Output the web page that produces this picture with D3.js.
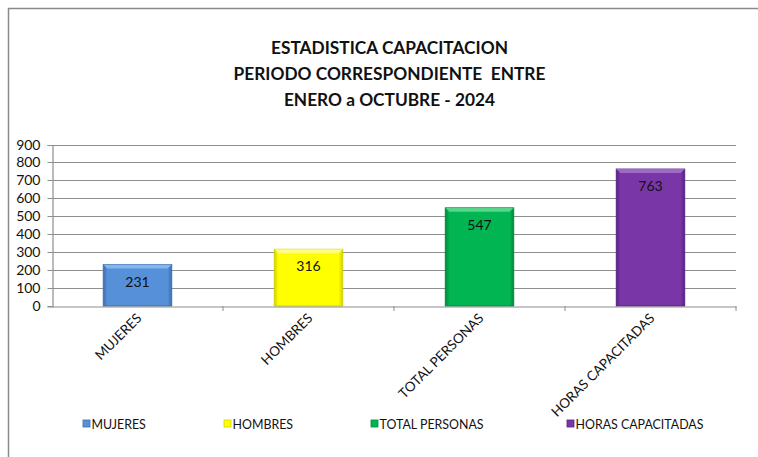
<!DOCTYPE html>
<html><head><meta charset="utf-8">
<script src="https://cdn.jsdelivr.net/npm/d3@7"></script>
<style>body{margin:0;background:#fff}svg{display:block}</style>
</head><body><svg id="c" width="758" height="457"></svg>
<script>
const titleLines = ["ESTADISTICA CAPACITACION", "PERIODO CORRESPONDIENTE  ENTRE", "ENERO a OCTUBRE - 2024"];
const categories = ["MUJERES", "HOMBRES", "TOTAL PERSONAS", "HORAS CAPACITADAS"];
const values = [231, 316, 547, 763];
const colors = ["#5590d9", "#ffff00", "#00b552", "#7936a6"];
const darkColors = ["#3c6eae", "#d2d200", "#008a3c", "#5a2282"];
const lightColors = ["#8db8ec", "#ffff90", "#5fd98f", "#a46fcb"];
const yTicks = [0, 100, 200, 300, 400, 500, 600, 700, 800, 900];

const F = "Lato, 'Liberation Sans', sans-serif";
const svg = d3.select("#c");
const defs = svg.append("defs");

// chart border
svg.append("rect").attr("x", 8.5).attr("y", 8.5).attr("width", 770).attr("height", 470)
  .attr("fill", "#fff").attr("stroke", "#8a8a8a").attr("stroke-width", 1.5);

// title
svg.append("g").selectAll("text").data(titleLines).join("text")
  .attr("x", 389.5).attr("y", (d, i) => 54 + i * 26)
  .attr("text-anchor", "middle").attr("font-family", F).attr("font-weight", "bold")
  .attr("font-size", 17.3).attr("fill", "#111").attr("xml:space", "preserve").text(d => d);

const x = d3.scaleBand().domain(categories).range([52, 736]).padding(0);
const y = d3.scaleLinear().domain([0, 900]).range([306, 144.5]);

// gridlines
svg.append("g").selectAll("line").data(yTicks.filter(d => d > 0)).join("line")
  .attr("x1", 52).attr("x2", 736).attr("y1", d => Math.round(y(d)) + 0.5).attr("y2", d => Math.round(y(d)) + 0.5)
  .attr("stroke", "#8e8e8e").attr("stroke-width", 1.2);

// y axis
const yAxis = svg.append("g").attr("transform", "translate(52.5,0.5)")
  .call(d3.axisLeft(y).tickValues(yTicks).tickSize(5).tickPadding(7).tickFormat(d3.format("d")));
yAxis.select(".domain").attr("stroke", "#8e8e8e").attr("stroke-width", 1.2);
yAxis.selectAll(".tick line").attr("stroke", "#8e8e8e");
yAxis.selectAll(".tick").attr("transform", d => `translate(0,${Math.round(y(d))})`);
yAxis.selectAll("text").attr("font-family", F).attr("font-size", 14).attr("fill", "#111");

// bars
const bw = x.bandwidth() * 0.4;
categories.forEach((c, i) => {
  const g = defs.append("linearGradient").attr("id", "g" + i).attr("x1", 0).attr("x2", 1).attr("y1", 0).attr("y2", 0);
  g.append("stop").attr("offset", "0%").attr("stop-color", darkColors[i]);
  g.append("stop").attr("offset", "6%").attr("stop-color", colors[i]);
  g.append("stop").attr("offset", "94%").attr("stop-color", colors[i]);
  g.append("stop").attr("offset", "100%").attr("stop-color", darkColors[i]);
});
const bars = svg.append("g").selectAll("g").data(categories).join("g");
bars.append("rect")
  .attr("x", d => x(d) + (x.bandwidth() - bw) / 2)
  .attr("y", (d, i) => y(values[i]))
  .attr("width", bw)
  .attr("height", (d, i) => y(0) - y(values[i]))
  .attr("fill", (d, i) => `url(#g${i})`)
  .attr("stroke", (d, i) => darkColors[i]).attr("stroke-width", 1);
bars.append("path")
  .attr("d", (d, i) => {
    const x0 = x(d) + (x.bandwidth() - bw) / 2, x1 = x0 + bw, t = y(values[i]);
    return `M${x0},${t}L${x1},${t}L${x1 - 4},${t + 4}L${x0 + 4},${t + 4}Z`;
  })
  .attr("fill", (d, i) => lightColors[i]).attr("opacity", 0.9);
bars.append("text")
  .attr("x", d => x(d) + x.bandwidth() / 2)
  .attr("y", (d, i) => y(values[i]) + 22)
  .attr("text-anchor", "middle").attr("font-family", F).attr("font-size", 14).attr("fill", "#111")
  .text((d, i) => values[i]);

// x axis
const xAxis = svg.append("g").attr("transform", "translate(0,306.5)")
  .call(d3.axisBottom(x).tickSize(0).tickFormat(""));
xAxis.select(".domain").attr("stroke", "#8e8e8e").attr("stroke-width", 1.2);
xAxis.selectAll(".tick").remove();
svg.append("g").selectAll("line").data(categories).join("line")
  .attr("x1", d => x(d) + x.bandwidth()).attr("x2", d => x(d) + x.bandwidth())
  .attr("y1", 306).attr("y2", 311).attr("stroke", "#8e8e8e");
svg.append("g").selectAll("text").data(categories).join("text")
  .attr("transform", d => `translate(${x(d) + x.bandwidth() / 2 + 5},${319}) rotate(-45)`)
  .attr("text-anchor", "end").attr("font-family", F).attr("font-size", 13.5).attr("fill", "#111")
  .text(d => d);

// legend
const legX = [83, 224, 371, 567];
const leg = svg.append("g").selectAll("g").data(categories).join("g")
  .attr("transform", (d, i) => `translate(${legX[i]},424)`);
leg.append("rect").attr("x", 0).attr("y", -4).attr("width", 7).attr("height", 7)
  .attr("fill", (d, i) => colors[i]).attr("stroke", (d, i) => darkColors[i]).attr("stroke-width", 0.8);
leg.append("text").attr("x", 8.5).attr("y", 5).attr("font-family", F).attr("font-size", 12.4).attr("fill", "#111")
  .text(d => d);
</script></body></html>
